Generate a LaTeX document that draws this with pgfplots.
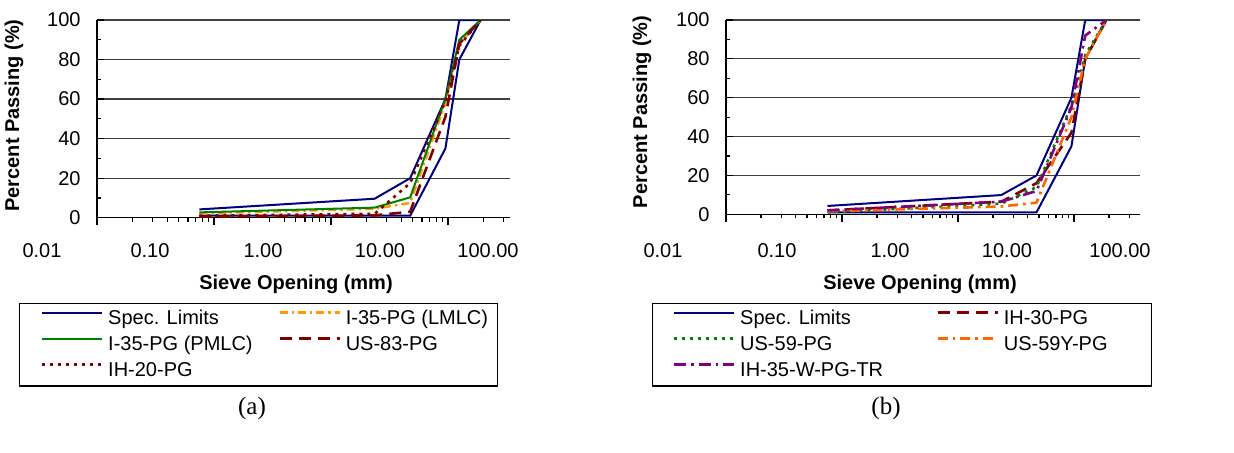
\documentclass[border=0pt]{standalone}
\usepackage{fontspec}
\setmainfont{Liberation Sans}
\newfontfamily\tnr{Liberation Serif}
\usepackage{pgfplots}
\pgfplotsset{compat=1.18}

\definecolor{spec}{RGB}{0,0,128}
\definecolor{dgreen}{RGB}{0,128,0}
\definecolor{amber}{RGB}{255,153,0}
\definecolor{dred}{RGB}{128,0,0}
\definecolor{orng}{RGB}{255,102,0}
\definecolor{purp}{RGB}{128,0,128}

\newcommand{\lgs}{\rule[-2.6pt]{0pt}{10.1pt}}
\newcommand{\lgl}{\rule[-4.6pt]{0pt}{12.1pt}}
\newcommand{\lgbox}[2]{\makebox[#1][l]{\lgs#2}}
\newcommand{\lgboxl}[2]{\makebox[#1][l]{\lgl#2}}
\newcommand{\fs}{\fontsize{10}{12}\selectfont}

\pgfplotsset{
  legend image code/.code={\draw[#1] (0pt,3pt) -- (30pt,3pt);},
}

\begin{document}
\begin{tikzpicture}
\path[use as bounding box] (0pt,0pt) rectangle (617pt,226pt);

% ---------------- (a) ----------------
\begin{axis}[
  scale only axis, anchor=south west,
  at={(48.5pt,117.15pt)}, width=206.5pt, height=98.85pt,
  xmode=log, xmin=0.01, xmax=33.88, ymin=0, ymax=100,
  axis x line*=bottom, axis y line*=left,
  axis line style={-, black, line width=0.6pt},
  xtick={0.01,0.1,1,10}, xticklabels={},
  extra x ticks={0.02,0.03,0.04,0.05,0.06,0.07,0.08,0.09,0.2,0.3,0.4,0.5,0.6,0.7,0.8,0.9,2,3,4,5,6,7,8,9,20,30},
  extra x tick labels={},
  extra x tick style={major tick length=2pt},
  ytick={0,20,40,60,80,100}, minor ytick={10,30,50,70,90},
  ymajorgrids, major grid style={black!75, line width=0.6pt},
  tick align=outside, major tick length=3.7pt, minor tick length=2pt,
  tick style={black, line width=0.6pt},
  every major y tick/.append style={xshift=3.7pt},
  every minor y tick/.append style={xshift=2pt},
  /pgf/number format/assume math mode=true,
  yticklabel style={font=\fs, xshift=-1pt},
  legend columns=2, legend cell align=left,
  legend style={at={(-0.18886,-0.42994)}, anchor=north west, draw=black, line width=0.6pt,
    inner xsep=10.5pt, inner ysep=1.15pt, font=\fs,
    /tikz/every odd column/.append style={column sep=0.5pt}},
]
\addplot[color=spec, line width=1pt, solid] coordinates {(0.075,4.2) (2.36,9.6) (4.75,20) (9.5,60) (12.5,100) (19,100)};
\addlegendentry{\lgbox{83pt}{Spec. Limits}}
\addplot[color=spec, line width=1pt, solid, forget plot] coordinates {(0.075,1) (2.36,1) (4.75,1) (9.5,35) (12.5,80) (19,100)};
\addplot[color=amber, line width=1.2pt, dash pattern=on 4pt off 2pt on 1.2pt off 2pt] coordinates {(0.075,2.2) (2.36,4.5) (4.75,7.5) (9.5,58) (12.5,88) (19,100)};
\addlegendentry{\lgbox{63.5pt}{I-35-PG (LMLC)}}
\addplot[color=dgreen, line width=1pt, solid] coordinates {(0.075,2.7) (2.36,5.1) (4.75,10.3) (9.5,60) (12.5,90) (19,100)};
\addlegendentry{\lgbox{83pt}{I-35-PG (PMLC)}}
\addplot[color=dred, line width=1.3pt, dash pattern=on 6pt off 3.5pt] coordinates {(0.075,0.5) (2.36,1.2) (4.75,3) (9.5,51) (12.5,88) (19,100)};
\addlegendentry{\lgbox{63.5pt}{US-83-PG}}
\addplot[color=dred, line width=1.3pt, dash pattern=on 1.5pt off 2.5pt] coordinates {(0.075,1) (2.36,2) (4.75,17.5) (9.5,59) (12.5,87) (19,100)};
\addlegendentry{\lgboxl{83pt}{IH-20-PG}}
\end{axis}

% ---------------- (b) ----------------
\begin{axis}[
  scale only axis, anchor=south west,
  at={(363pt,118.85pt)}, width=207pt, height=97.15pt,
  xmode=log, xmin=0.01, xmax=37.07, ymin=0, ymax=100,
  axis x line*=bottom, axis y line*=left,
  axis line style={-, black, line width=0.6pt},
  xtick={0.01,0.1,1,10}, xticklabels={},
  extra x ticks={0.02,0.03,0.04,0.05,0.06,0.07,0.08,0.09,0.2,0.3,0.4,0.5,0.6,0.7,0.8,0.9,2,3,4,5,6,7,8,9,20,30},
  extra x tick labels={},
  extra x tick style={major tick length=2pt},
  ytick={0,20,40,60,80,100}, minor ytick={10,30,50,70,90},
  ymajorgrids, major grid style={black!75, line width=0.6pt},
  tick align=outside, major tick length=3.7pt, minor tick length=2pt,
  tick style={black, line width=0.6pt},
  every major y tick/.append style={xshift=3.7pt},
  every minor y tick/.append style={xshift=2pt},
  /pgf/number format/assume math mode=true,
  yticklabel style={font=\fs, xshift=-1pt},
  legend columns=2, legend cell align=left,
  legend style={at={(-0.17874,-0.45497)}, anchor=north west, draw=black, line width=0.6pt,
    inner xsep=10pt, inner ysep=1.15pt, font=\fs,
    /tikz/every odd column/.append style={column sep=0.5pt}},
]
\addplot[color=spec, line width=1pt, solid] coordinates {(0.075,4.3) (2.36,9.9) (4.75,20) (9.5,60) (12.5,100) (19,100)};
\addlegendentry{\lgbox{96pt}{Spec. Limits}}
\addplot[color=spec, line width=1pt, solid, forget plot] coordinates {(0.075,1) (2.36,1) (4.75,1) (9.5,35) (12.5,80) (19,100)};
\addplot[color=dred, line width=1.3pt, dash pattern=on 6pt off 3.5pt] coordinates {(0.075,2) (2.36,6.5) (4.75,16) (9.5,42) (12.5,80) (19,100)};
\addlegendentry{\lgbox{62pt}{IH-30-PG}}
\addplot[color=dgreen, line width=1.3pt, dash pattern=on 1.5pt off 2.5pt] coordinates {(0.075,1) (2.36,5.5) (4.75,14) (9.5,56) (12.5,82) (19,100)};
\addlegendentry{\lgbox{96pt}{US-59-PG}}
\addplot[color=orng, line width=1.3pt, dash pattern=on 5pt off 2.5pt on 1.3pt off 2.5pt] coordinates {(0.075,1.5) (2.36,4) (4.75,6) (9.5,50) (12.5,80) (19,100)};
\addlegendentry{\lgbox{62pt}{US-59Y-PG}}
\addplot[color=purp, line width=1.3pt, dash pattern=on 6pt off 2.5pt on 1.3pt off 2.5pt] coordinates {(0.075,2) (2.36,6.5) (4.75,12) (9.5,55) (12.5,92) (19,100)};
\addlegendentry{\lgboxl{96pt}{IH-35-W-PG-TR}}
\end{axis}

% tick labels (as set in the original figure)
\begin{scope}[every node/.style={font=\fs, anchor=base, inner sep=0pt}]
\node at (21pt,97.25pt) {0.01};
\node at (75pt,97.25pt) {0.10};
\node at (131.5pt,97.25pt) {1.00};
\node at (190pt,97.25pt) {10.00};
\node at (244pt,97.25pt) {100.00};
\node at (331.5pt,97.25pt) {0.01};
\node at (388.5pt,97.25pt) {0.10};
\node at (445pt,97.25pt) {1.00};
\node at (503.5pt,97.25pt) {10.00};
\node at (560pt,97.25pt) {100.00};
\node[font=\fs\bfseries] at (148pt,81.35pt) {Sieve Opening (mm)};
\node[font=\fs\bfseries] at (460pt,81.35pt) {Sieve Opening (mm)};
\end{scope}
\node[font=\fs\bfseries, rotate=90, inner sep=0pt] at (7pt,168.25pt) {Percent Passing (\%)};
\node[font=\fs\bfseries, rotate=90, inner sep=0pt] at (321pt,170pt) {Percent Passing (\%)};
\node[font=\tnr\fontsize{12.5}{14}\selectfont, inner sep=0pt] at (126pt,22pt) {(a)};
\node[font=\tnr\fontsize{12.5}{14}\selectfont, inner sep=0pt] at (443pt,22pt) {(b)};
\end{tikzpicture}
\end{document}
